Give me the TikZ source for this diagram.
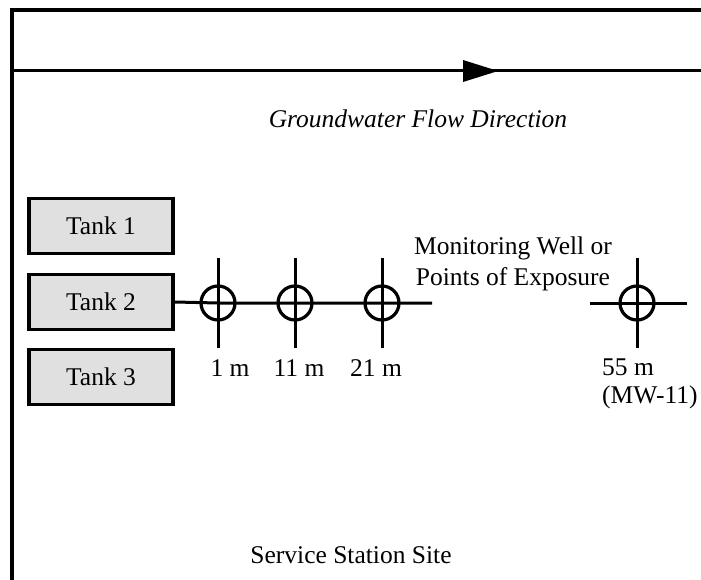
\documentclass[tikz,border=0pt]{standalone}
\usepackage{fontspec}
\setmainfont{Liberation Serif}
\begin{document}
\begin{tikzpicture}[x=1pt,y=-1pt,
  every node/.style={font=\fontsize{25.5}{31}\selectfont, inner sep=0pt},
  frameline/.style={line width=3.4pt},
  tankbox/.style={draw, line width=3.2pt, fill=black!12, minimum width=144pt, minimum height=55pt},
  wellcircle/.style={draw, circle, line width=3.2pt, minimum size=34pt},
  wline/.style={line width=3pt},
  lbl/.style={anchor=center}
]
\useasboundingbox (0,0) rectangle (701,580);
% frame
\draw[frameline] (12,580) -- (12,10) -- (701,10);
% flow line and arrowhead
\coordinate (fl) at (12,71);
\coordinate (fr) at (701,71);
\draw[wline] (fl) -- (fr);
\fill (463,60) -- (498,71) -- (463,82) -- cycle;
\node[font=\fontsize{25.5}{31}\selectfont\itshape] (flow) at (418,119) {Groundwater Flow Direction};
% tanks
\node[tankbox] (t1) at (101,226) {Tank 1};
\node[tankbox] (t2) at (101,302) {Tank 2};
\node[tankbox] (t3) at (101,377) {Tank 3};
% wells
\node[wellcircle] (w1) at (218,303) {};
\node[wellcircle] (w2) at (295,303) {};
\node[wellcircle] (w3) at (382,303) {};
\node[wellcircle] (w4) at (637,303) {};
\foreach \w in {w1,w2,w3,w4}{
  \draw[wline] ([yshift=-45pt]\w.center) -- ([yshift=45pt]\w.center);
}
\coordinate (lend) at (432,303);
\coordinate (rl) at (590,303);
\coordinate (rr) at (687,303);
\draw[wline] (t2.east) -- (w1.center) -- (w2.center) -- (w3.center) -- (lend);
\draw[wline] (rl) -- (rr);
% labels
\node (l1) at (230,368) {1 m};
\node (l2) at (299,368) {11 m};
\node (l3) at (376,368) {21 m};
\node[anchor=west] (l4) at (602,367) {55 m};
\node[anchor=west] (l5) at (602,397) {(MW-11)};
\node[align=center] (mw) at (513,264) {Monitoring Well or\\Points of Exposure};
\node (site) at (351,555) {Service Station Site};
\end{tikzpicture}
\end{document}
